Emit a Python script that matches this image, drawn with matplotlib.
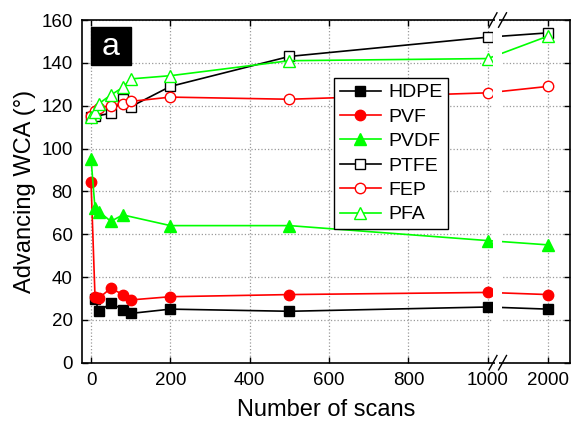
import matplotlib
matplotlib.use("Agg")
import matplotlib.pyplot as plt
from matplotlib.patches import Rectangle
import matplotlib.transforms as mtransforms

plt.rcParams['font.family'] = ['Liberation Sans', 'DejaVu Sans']

# data (x = number of scans)
hdpe_x = [10, 20, 50, 80, 100, 200, 500, 1000, 2000]
hdpe_y = [29.5, 24, 27.8, 24.8, 23, 25, 24, 26, 25]
pvf_x = [0, 10, 20, 50, 80, 100, 200, 500, 1000, 2000]
pvf_y = [84.3, 30.7, 30.2, 34.8, 31.8, 29.3, 30.8, 31.8, 32.8, 31.8]
pvdf_x = [0, 10, 20, 50, 80, 200, 500, 1000, 2000]
pvdf_y = [95.3, 72, 70.5, 66, 69, 64, 64, 57, 55]
ptfe_x = [0, 10, 50, 80, 100, 200, 500, 1000, 2000]
ptfe_y = [114.5, 115, 116.5, 123, 119.5, 129, 143, 152, 154]
fep_x = [0, 10, 20, 50, 80, 100, 200, 500, 1000, 2000]
fep_y = [115, 117.5, 119, 120, 121, 122, 124, 123, 126, 129]
pfa_x = [0, 10, 20, 50, 80, 100, 200, 500, 1000, 2000]
pfa_y = [114.5, 117, 121, 125, 128.5, 132.5, 134, 141, 142, 152.5]

x_ticks = [0, 200, 400, 600, 800, 1000, 2000]


def brk(x):
    # broken axis: linear up to 1000, then 2000 sits a short step further
    out = []
    for v in x:
        if v <= 1000:
            out.append(v)
        else:
            out.append(1000 + (v - 1000) * 0.152)
    return out


fig = plt.figure(figsize=(5.74, 4.23), dpi=100)
ax = fig.add_axes([0.1434, 0.1426, 0.8496, 0.8101])

ms = dict(mew=1.0)
ax.plot(brk(hdpe_x), hdpe_y, '-s', color='black', ms=6.5, lw=1.2, label='HDPE', **ms)
ax.plot(brk(pvf_x), pvf_y, '-o', color='red', ms=7.5, lw=1.2, label='PVF', **ms)
ax.plot(brk(pvdf_x), pvdf_y, '-^', color='#00ff00', ms=8, lw=1.2, label='PVDF', **ms)
ax.plot(brk(ptfe_x), ptfe_y, '-s', color='black', mfc='white', ms=7, lw=1.2, label='PTFE', **ms)
ax.plot(brk(fep_x), fep_y, '-o', color='red', mfc='white', ms=7.5, lw=1.2, label='FEP', **ms)
ax.plot(brk(pfa_x), pfa_y, '-^', color='#00ff00', mfc='white', ms=8, lw=1.2, label='PFA', **ms)

ax.set_xlim(-22, 1207)
ax.set_ylim(0, 160)
ax.set_xticks(brk(x_ticks))
ax.set_xticklabels([str(t) for t in x_ticks])
ax.set_yticks(range(0, 161, 20))
ax.tick_params(direction='in', top=True, right=True, length=4, width=1,
               labelsize=13.5, pad=7)
ax.grid(True, linestyle=':', color='#999999', lw=0.9)
ax.set_axisbelow(True)
for s in ax.spines.values():
    s.set_linewidth(1.2)

ax.set_xlabel('Number of scans', fontsize=17, labelpad=7)
ax.set_ylabel('Advancing WCA (°)', fontsize=17, labelpad=4)

# gap in the lines at the break
ax.axvspan(1013, 1036, color='white', zorder=2.5, lw=0)
trans = mtransforms.blended_transform_factory(ax.transData, ax.transAxes)
for yy in (0, 1):
    ax.add_patch(Rectangle((1019, yy - 0.01), 10, 0.02, transform=trans,
                           color='white', clip_on=False, zorder=4, lw=0))
    for x0 in (1003, 1027):
        ax.plot([x0, x0 + 20], [yy - 0.021, yy + 0.021], color='black', lw=1.0,
                transform=trans, clip_on=False, zorder=5)

leg = ax.legend(loc='upper left', bbox_to_anchor=(0.516, 0.831), borderaxespad=0,
                fancybox=False, edgecolor='black', fontsize=14, handlelength=2.1,
                labelspacing=0.35, handletextpad=0.4, borderpad=0.3, framealpha=1)
leg.get_frame().set_linewidth(1.0)

ax.add_patch(Rectangle((0.0172, 0.8687), 0.082, 0.1118, transform=ax.transAxes,
                       color='black', zorder=5))
ax.text(0.058, 0.922, 'a', transform=ax.transAxes, color='white', fontsize=23,
        ha='center', va='center', zorder=6)

fig.savefig('out.png', dpi=100)
